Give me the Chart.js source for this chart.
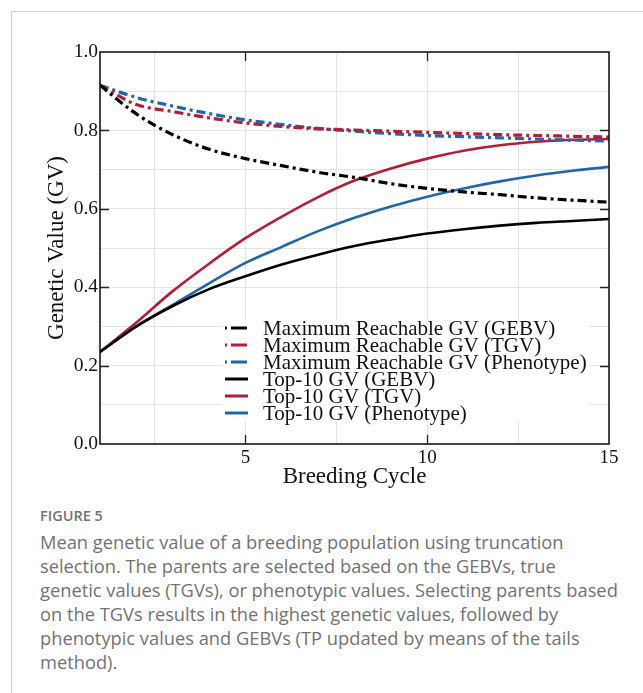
<!DOCTYPE html>
<html>
<head>
<meta charset="utf-8">
<script src="https://cdn.jsdelivr.net/npm/chart.js@4.4.0/dist/chart.umd.min.js"></script>
<style>
  html, body { margin: 0; padding: 0; background: #fff; }
  body { width: 643px; height: 693px; position: relative; overflow: hidden; }
  .frame { position: absolute; left: 11px; top: 11px; right: 0; bottom: 0; border-left: 1px solid #cfcfcf; border-top: 1px solid #cfcfcf; }
  .chart-box { position: absolute; left: 0; top: 0; width: 643px; height: 500px; }
  .caption { position: absolute; left: 40px; top: 506px; font-family: 'Open Sans', sans-serif; color: #727272; white-space: nowrap; }
  .caption .fig { font-size: 14.5px; font-weight: 600; line-height: 20px; margin-bottom: 4px; }
  .caption p { margin: 0; font-size: 18.3px; line-height: 24px; }
</style>
</head>
<body>
<div class="frame"></div>
<div class="chart-box"><canvas id="gv-chart"></canvas></div>
<div class="caption">
    <div class="fig">FIGURE 5</div>
    <p>Mean genetic value of a breeding population using truncation<br>
    selection. The parents are selected based on the GEBVs, true<br>
    genetic values (TGVs), or phenotypic values. Selecting parents based<br>
    on the TGVs results in the highest genetic values, followed by<br>
    phenotypic values and GEBVs (TP updated by means of the tails<br>
    method).</p>
</div>
<script>
// breeding cycles
const cycles = [1, 2, 3, 4, 5, 6, 7, 8, 9, 10, 11, 12, 13, 14, 15];

// maximum reachable GV (dash-dot)
const maxGEBV  = [0.915, 0.842, 0.789, 0.752, 0.728, 0.710, 0.693, 0.680, 0.664, 0.652, 0.643, 0.636, 0.628, 0.622, 0.617];
const maxTGV   = [0.915, 0.866, 0.848, 0.832, 0.819, 0.810, 0.804, 0.801, 0.798, 0.795, 0.792, 0.789, 0.787, 0.785, 0.783];
const maxPheno = [0.915, 0.884, 0.862, 0.843, 0.827, 0.815, 0.805, 0.798, 0.792, 0.787, 0.784, 0.781, 0.778, 0.775, 0.773];

// top-10 GV (solid)
const topGEBV  = [0.235, 0.300, 0.352, 0.395, 0.428, 0.458, 0.483, 0.505, 0.522, 0.537, 0.548, 0.557, 0.564, 0.569, 0.574];
const topTGV   = [0.235, 0.310, 0.390, 0.460, 0.525, 0.580, 0.630, 0.672, 0.703, 0.728, 0.748, 0.762, 0.771, 0.776, 0.778];
const topPheno = [0.235, 0.300, 0.355, 0.410, 0.462, 0.503, 0.543, 0.577, 0.606, 0.631, 0.652, 0.670, 0.685, 0.697, 0.707];

const xGridValues = [1, 2.5, 5, 7.5, 10, 12.5, 15];
const xTickLabels = [5, 10, 15];
const yGridValues = [0, 0.1, 0.2, 0.3, 0.4, 0.5, 0.6, 0.7, 0.8, 0.9, 1.0];
const yTickLabels = [0, 0.2, 0.4, 0.6, 0.8, 1.0];

const BLACK = '#000000';
const RED = '#b01f35';
const BLUE = '#2166ac';
const DASHDOT = [9, 4, 3, 4];
const SERIF = "'Liberation Serif', 'DejaVu Serif', serif";

function series(label, values, color, dashed) {
    return {
        label: label,
        data: cycles.map((c, i) => ({ x: c, y: values[i] })),
        borderColor: color,
        backgroundColor: color,
        borderWidth: dashed ? 3.2 : 2.6,
        borderDash: dashed ? DASHDOT : [],
        pointRadius: 0,
        cubicInterpolationMode: 'monotone',
        fill: false
    };
}

const datasets = [
    series('Maximum Reachable GV (GEBV)', maxGEBV, BLACK, true),
    series('Maximum Reachable GV (TGV)', maxTGV, RED, true),
    series('Maximum Reachable GV (Phenotype)', maxPheno, BLUE, true),
    series('Top-10 GV (GEBV)', topGEBV, BLACK, false),
    series('Top-10 GV (TGV)', topTGV, RED, false),
    series('Top-10 GV (Phenotype)', topPheno, BLUE, false)
];

// box, inward ticks and the legend inside the plot
const frameAndLegend = {
    id: 'frameAndLegend',
    afterDatasetsDraw(chart) {
        const { ctx, chartArea: a, scales: { x, y } } = chart;
        ctx.save();

        // legend
        const boxLeft = a.left + 122, boxTop = 320;
        ctx.fillStyle = '#ffffff';
        ctx.fillRect(boxLeft, boxTop, 367, 101);
        ctx.font = '21px ' + SERIF;
        ctx.textBaseline = 'middle';
        chart.data.datasets.forEach((ds, i) => {
            const rowY = 328 + i * 17;
            ctx.strokeStyle = ds.borderColor;
            ctx.lineWidth = 3;
            ctx.setLineDash(ds.borderDash.length ? [2, 4, 16, 4] : []);
            ctx.beginPath();
            ctx.moveTo(a.left + 125, rowY);
            ctx.lineTo(a.left + 148, rowY);
            ctx.stroke();
            ctx.setLineDash([]);
            ctx.fillStyle = '#111';
            ctx.fillText(ds.label, a.left + 163, rowY + 1);
        });

        // inward ticks
        ctx.strokeStyle = '#222';
        ctx.lineWidth = 1.3;
        ctx.beginPath();
        [5, 10].forEach(v => {
            const px = Math.round(x.getPixelForValue(v)) + 0.5;
            ctx.moveTo(px, a.bottom); ctx.lineTo(px, a.bottom - 9);
            ctx.moveTo(px, a.top); ctx.lineTo(px, a.top + 9);
        });
        [0.2, 0.4, 0.6, 0.8].forEach(v => {
            const py = Math.round(y.getPixelForValue(v)) + 0.5;
            ctx.moveTo(a.left, py); ctx.lineTo(a.left + 9, py);
            ctx.moveTo(a.right, py); ctx.lineTo(a.right - 9, py);
        });
        ctx.stroke();

        // plot box
        ctx.lineWidth = 1.6;
        ctx.strokeStyle = '#1a1a1a';
        ctx.strokeRect(a.left, a.top, a.right - a.left, a.bottom - a.top);
        ctx.restore();
    }
};

new Chart(document.getElementById('gv-chart'), {
    type: 'line',
    data: { datasets: datasets },
    options: {
        responsive: true,
        maintainAspectRatio: false,
        animation: false,
        layout: { padding: { left: 0, top: 52, right: 34, bottom: 0 } },
        plugins: {
            legend: { display: false },
            tooltip: { enabled: false }
        },
        scales: {
            x: {
                type: 'linear',
                min: 1,
                max: 15,
                afterBuildTicks: s => { s.ticks = xGridValues.map(v => ({ value: v })); },
                afterFit: s => { s.height = 56; },
                grid: { color: '#e4e4e4', lineWidth: 1, drawTicks: false },
                border: { display: false },
                ticks: {
                    autoSkip: false,
                    maxRotation: 0,
                    padding: 3,
                    color: '#111',
                    font: { family: SERIF, size: 19 },
                    callback: v => xTickLabels.includes(v) ? String(v) : ''
                },
                title: {
                    display: true,
                    text: 'Breeding Cycle',
                    color: '#111',
                    font: { family: SERIF, size: 23 },
                    padding: { top: 0, bottom: 9 }
                }
            },
            y: {
                min: 0,
                max: 1,
                afterBuildTicks: s => { s.ticks = yGridValues.map(v => ({ value: v })); },
                afterFit: s => { s.width = 100; },
                grid: { color: '#e4e4e4', lineWidth: 1, drawTicks: false },
                border: { display: false },
                ticks: {
                    autoSkip: false,
                    padding: 2,
                    color: '#111',
                    font: { family: SERIF, size: 19.5 },
                    callback: v => yTickLabels.some(t => Math.abs(t - v) < 1e-6) ? v.toFixed(1) : ''
                },
                title: {
                    display: true,
                    text: 'Genetic Value (GV)',
                    color: '#111',
                    font: { family: SERIF, size: 23 },
                    padding: { top: 43, bottom: 0 }
                }
            }
        }
    },
    plugins: [frameAndLegend]
});
</script>
</body>
</html>
